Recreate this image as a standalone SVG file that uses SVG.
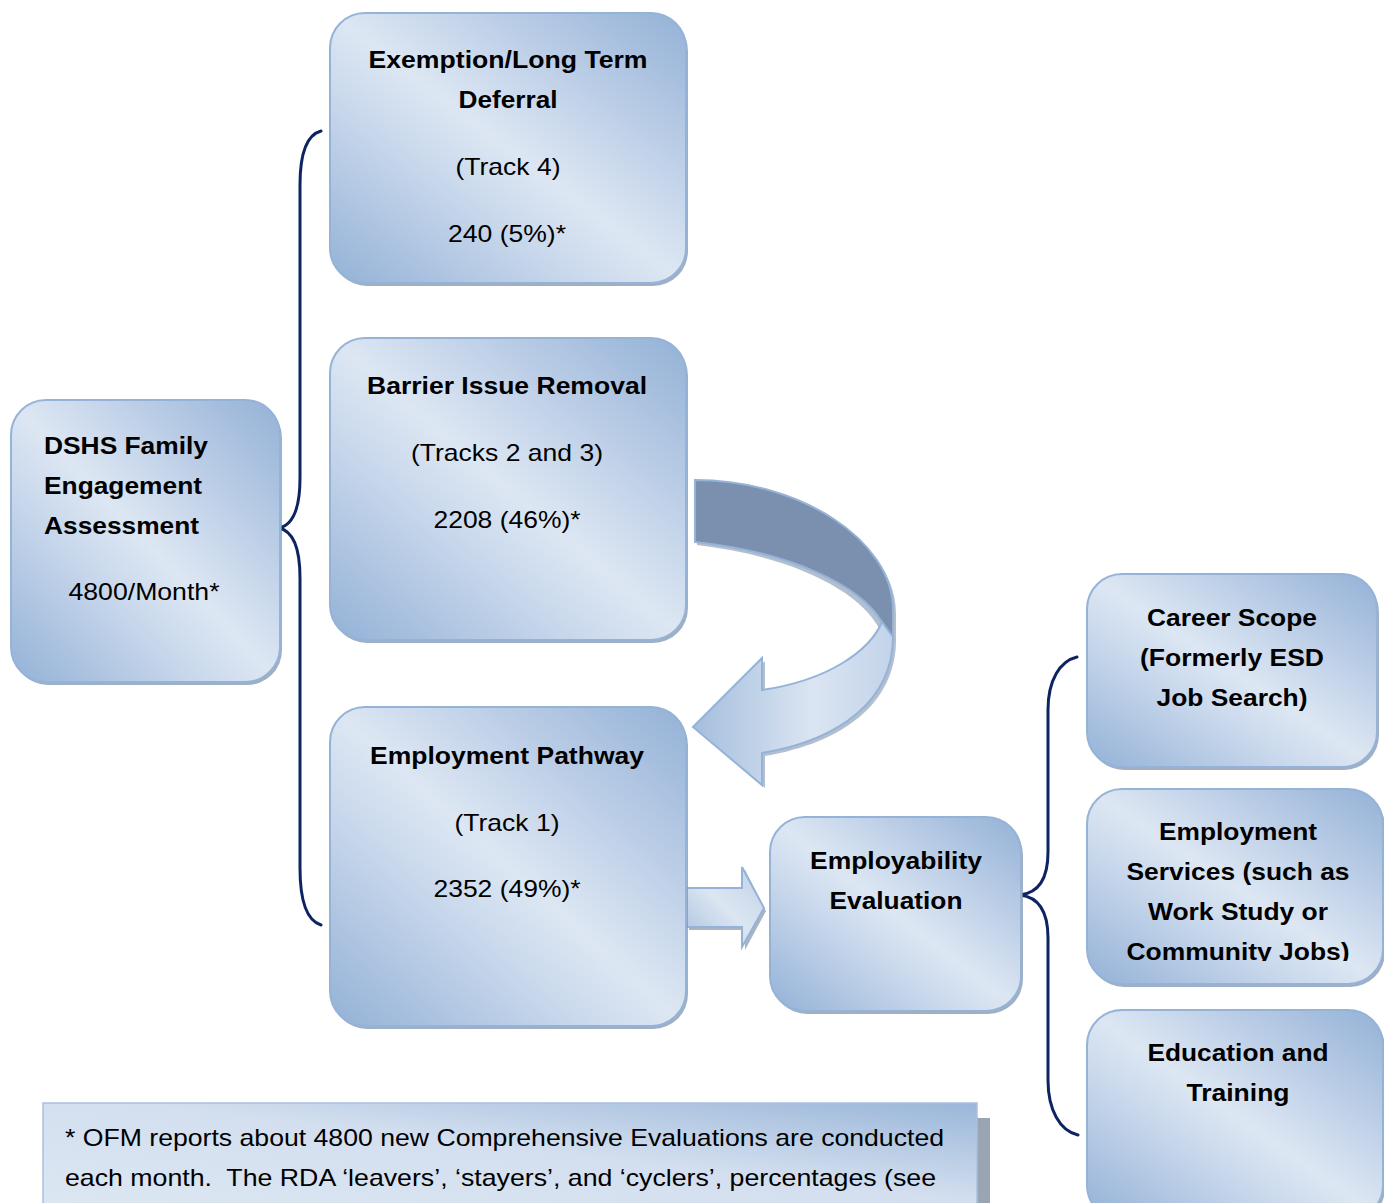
<svg xmlns="http://www.w3.org/2000/svg" width="1384" height="1203" viewBox="0 0 1384 1203">
<defs>
<linearGradient id="boxg" x1="1" y1="0" x2="0" y2="1">
<stop offset="0" stop-color="#93b1d6"/>
<stop offset="0.33" stop-color="#c4d4ea"/>
<stop offset="0.5" stop-color="#dde7f3"/>
<stop offset="0.67" stop-color="#c6d6eb"/>
<stop offset="1" stop-color="#93b1d6"/>
</linearGradient>
<linearGradient id="noteg" x1="0" y1="1" x2="1" y2="0">
<stop offset="0" stop-color="#dde7f3"/>
<stop offset="0.55" stop-color="#d3dfef"/>
<stop offset="1" stop-color="#9ab6d9"/>
</linearGradient>
<linearGradient id="arrg" x1="0" y1="0" x2="1" y2="0">
<stop offset="0" stop-color="#a4bedd"/>
<stop offset="0.6" stop-color="#dbe5f2"/>
<stop offset="1" stop-color="#c2d3ea"/>
</linearGradient>
<linearGradient id="sarrg" x1="0" y1="1" x2="1" y2="0">
<stop offset="0" stop-color="#a9c1df"/>
<stop offset="0.5" stop-color="#dce6f2"/>
<stop offset="1" stop-color="#bfd0e8"/>
</linearGradient>
<clipPath id="clip7"><rect x="1080" y="780" width="304" height="181"/></clipPath>
</defs>
<style>
.box{fill:url(#boxg);stroke:#95b3d7;stroke-width:2}
.sh{fill:#8094ae;opacity:0.75}
.t{font-family:"Liberation Sans",Arial,sans-serif;font-size:24px;fill:#000}
.b{font-weight:bold}
.c{text-anchor:middle}
.pre{white-space:pre}
.brace{fill:none;stroke:#0d2460;stroke-width:3;stroke-linecap:round}
.arr{stroke:#95b3d7;stroke-width:2;stroke-linejoin:miter}
</style>
<rect width="1384" height="1203" fill="#fff"/>

<g id="connectors">
<path class="brace" d="M321,131 C306,135 300,155 300,185 L300,478 C300,508 293,525 279,528 C293,531 300,548 300,578 L300,868 C300,898 305,920 321,925"/>
<path class="brace" d="M1077,657 C1060,661 1048,680 1048,710 L1048,852 C1048,880 1038,893 1020,895 C1038,897 1048,910 1048,938 L1048,1080 C1048,1110 1060,1131 1078,1135"/>
<g id="arrow-straight">
<path d="M689,891 L745,891 L745,870 L766,911 L745,950 L745,930 L689,930 Z" fill="#8094ae" opacity="0.7"/>
<path class="arr" d="M686,888 L742,888 L742,867 L764,908 L742,947 L742,927 L686,927 Z" fill="url(#sarrg)"/>
</g>
<g id="arrow-curved">
<path d="M697,483 C802,483 896,543 896,613 L896,640 C896,703 843,743 765,756 L765,788 L696,730 L765,661 L765,693 C818,683 860,660 880,630 C860,590 790,556 697,545 Z" fill="#8094ae" opacity="0.6"/>
<path class="arr" d="M695,480 C800,480 893,540 893,610 L893,637 L882,622 C860,585 790,552 695,542 Z" fill="#7a90ae"/>
<path class="arr" d="M882,622 C870,650 830,680 762,690 L762,658 L693,727 L762,785 L762,753 C840,740 893,700 893,637 Z" fill="url(#arrg)"/>
</g>
</g>

<g id="node-exemption">
<rect class="sh" x="332" y="16" width="356" height="270" rx="35"/>
<rect class="box" x="330" y="13" width="356" height="270" rx="35"/>
<text class="t b c" x="508" y="68" textLength="279" lengthAdjust="spacingAndGlyphs">Exemption/Long Term</text>
<text class="t b c" x="508" y="108" textLength="99" lengthAdjust="spacingAndGlyphs">Deferral</text>
<text class="t c" x="508" y="175" textLength="105" lengthAdjust="spacingAndGlyphs">(Track 4)</text>
<text class="t c" x="507" y="242" textLength="118" lengthAdjust="spacingAndGlyphs">240 (5%)*</text>
</g>

<g id="node-barrier">
<rect class="sh" x="332" y="341" width="356" height="302" rx="35"/>
<rect class="box" x="330" y="338" width="356" height="302" rx="35"/>
<text class="t b c" x="507" y="394" textLength="280" lengthAdjust="spacingAndGlyphs">Barrier Issue Removal</text>
<text class="t c" x="507" y="461" textLength="192" lengthAdjust="spacingAndGlyphs">(Tracks 2 and 3)</text>
<text class="t c" x="507" y="528" textLength="147" lengthAdjust="spacingAndGlyphs">2208 (46%)*</text>
</g>

<g id="node-employment-pathway">
<rect class="sh" x="332" y="710" width="356" height="319" rx="35"/>
<rect class="box" x="330" y="707" width="356" height="319" rx="35"/>
<text class="t b c" x="507" y="764" textLength="274" lengthAdjust="spacingAndGlyphs">Employment Pathway</text>
<text class="t c" x="507" y="831" textLength="105" lengthAdjust="spacingAndGlyphs">(Track 1)</text>
<text class="t c" x="507" y="897" textLength="147" lengthAdjust="spacingAndGlyphs">2352 (49%)*</text>
</g>

<g id="node-dshs">
<rect class="sh" x="13" y="403" width="269" height="282" rx="35"/>
<rect class="box" x="11" y="400" width="269" height="282" rx="35"/>
<text class="t b" x="44" y="454" textLength="164" lengthAdjust="spacingAndGlyphs">DSHS Family</text>
<text class="t b" x="44" y="494" textLength="158" lengthAdjust="spacingAndGlyphs">Engagement</text>
<text class="t b" x="44" y="534" textLength="155" lengthAdjust="spacingAndGlyphs">Assessment</text>
<text class="t c" x="144" y="600" textLength="151" lengthAdjust="spacingAndGlyphs">4800/Month*</text>
</g>

<g id="node-employability">
<rect class="sh" x="772" y="820" width="251" height="194" rx="35"/>
<rect class="box" x="770" y="817" width="251" height="194" rx="35"/>
<text class="t b c" x="896" y="869" textLength="172" lengthAdjust="spacingAndGlyphs">Employability</text>
<text class="t b c" x="896" y="909" textLength="133" lengthAdjust="spacingAndGlyphs">Evaluation</text>
</g>

<g id="node-career-scope">
<rect class="sh" x="1089" y="577" width="290" height="193" rx="35"/>
<rect class="box" x="1087" y="574" width="290" height="193" rx="35"/>
<text class="t b c" x="1232" y="626" textLength="170" lengthAdjust="spacingAndGlyphs">Career Scope</text>
<text class="t b c" x="1232" y="666" textLength="184" lengthAdjust="spacingAndGlyphs">(Formerly ESD</text>
<text class="t b c" x="1232" y="706" textLength="151" lengthAdjust="spacingAndGlyphs">Job Search)</text>
</g>

<g id="node-employment-services">
<rect class="sh" x="1089" y="792" width="296" height="195" rx="35"/>
<rect class="box" x="1087" y="789" width="296" height="195" rx="35"/>
<g clip-path="url(#clip7)">
<text class="t b c" x="1238" y="840" textLength="158" lengthAdjust="spacingAndGlyphs">Employment</text>
<text class="t b c" x="1238" y="880" textLength="223" lengthAdjust="spacingAndGlyphs">Services (such as</text>
<text class="t b c" x="1238" y="920" textLength="180" lengthAdjust="spacingAndGlyphs">Work Study or</text>
<text class="t b c" x="1238" y="960" textLength="223" lengthAdjust="spacingAndGlyphs">Community Jobs)</text>
</g>
</g>

<g id="node-education">
<rect class="sh" x="1089" y="1013" width="296" height="210" rx="35"/>
<rect class="box" x="1087" y="1010" width="296" height="210" rx="35"/>
<text class="t b c" x="1238" y="1061" textLength="181" lengthAdjust="spacingAndGlyphs">Education and</text>
<text class="t b c" x="1238" y="1101" textLength="103" lengthAdjust="spacingAndGlyphs">Training</text>
</g>

<g id="note">
<rect x="977" y="1118" width="13" height="90" fill="#9aa5b4"/>
<rect x="43" y="1103" width="934" height="110" fill="url(#noteg)" stroke="#a9c0de" stroke-width="1.5"/>
<text class="t" x="65" y="1146" textLength="879" lengthAdjust="spacingAndGlyphs">* OFM reports about 4800 new Comprehensive Evaluations are conducted</text>
<text class="t pre" x="65" y="1186" textLength="871" lengthAdjust="spacingAndGlyphs" xml:space="preserve">each month.  The RDA ‘leavers’, ‘stayers’, and ‘cyclers’, percentages (see</text>
</g>
</svg>
